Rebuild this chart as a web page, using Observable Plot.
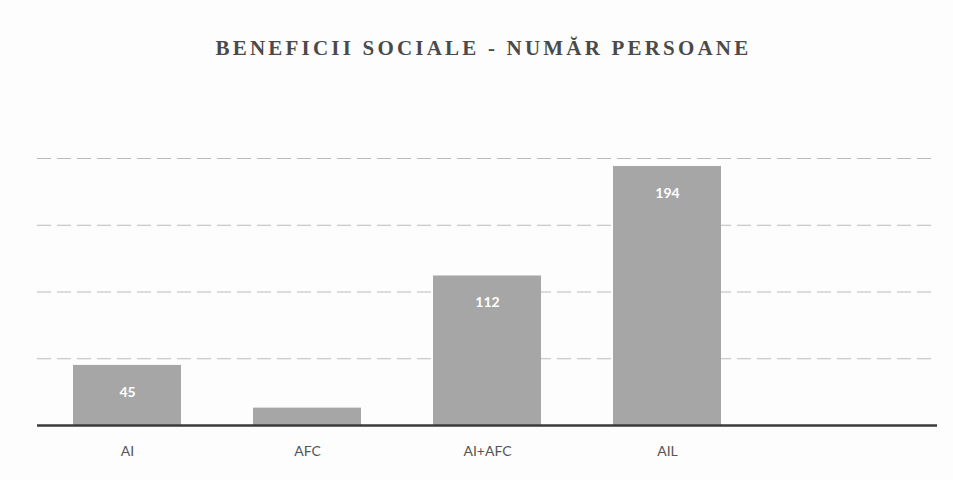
<!DOCTYPE html>
<html>
<head>
<meta charset="utf-8">
<script src="https://cdn.jsdelivr.net/npm/d3@7"></script>
<script src="https://cdn.jsdelivr.net/npm/@observablehq/plot@0.6"></script>
<style>
  html, body { margin: 0; padding: 0; background: #fdfdfd; width: 953px; height: 480px; overflow: hidden; }
  #title { height: 80px; line-height: 96px; text-align: center; font-family: "Liberation Serif", "DejaVu Serif", serif; font-weight: bold; font-size: 21px; letter-spacing: 3.2px; color: #4a4a4a; padding-left: 14px; }
</style>
</head>
<body>
<div id="title">BENEFICII SOCIALE - NUMĂR PERSOANE</div>
<div id="chart"></div>
<script>
const categories = ["AI", "AFC", "AI+AFC", "AIL"];
const values = [45, 13, 112, 194];
const yTicks = [0, 50, 100, 150, 200];
const slots = [...categories, " "];

const data = categories.map((c, i) => ({category: c, value: values[i]}));

const chart = Plot.plot({
  width: 953,
  height: 400,
  marginTop: 78,
  marginBottom: 55,
  marginLeft: 37,
  marginRight: 16,
  style: {background: "transparent", fontFamily: "Lato, 'Open Sans', sans-serif"},
  x: {domain: slots, paddingInner: 0.4, paddingOuter: 0.2, label: null, tickSize: 0, tickPadding: 20},
  y: {domain: [0, 200], ticks: yTicks, axis: null},
  marks: [
    Plot.gridY(yTicks, {stroke: "#bbb", strokeOpacity: 1, strokeWidth: 1, strokeDasharray: "14,6"}),
    Plot.barY(data, {x: "category", y: "value", fill: "#a6a6a6"}),
    Plot.ruleY([0], {stroke: "#3a3a3a", strokeWidth: 2.5}),
    Plot.text(data.filter(d => d.value > 30), {x: "category", y: "value", text: d => String(d.value), dy: 27, fill: "white", fontWeight: "bold", fontSize: 14}),
    Plot.axisX({tickSize: 0, tickPadding: 21, fontSize: 14, color: "#555", label: null})
  ]
});
document.getElementById("chart").appendChild(chart);
</script>
</body>
</html>
